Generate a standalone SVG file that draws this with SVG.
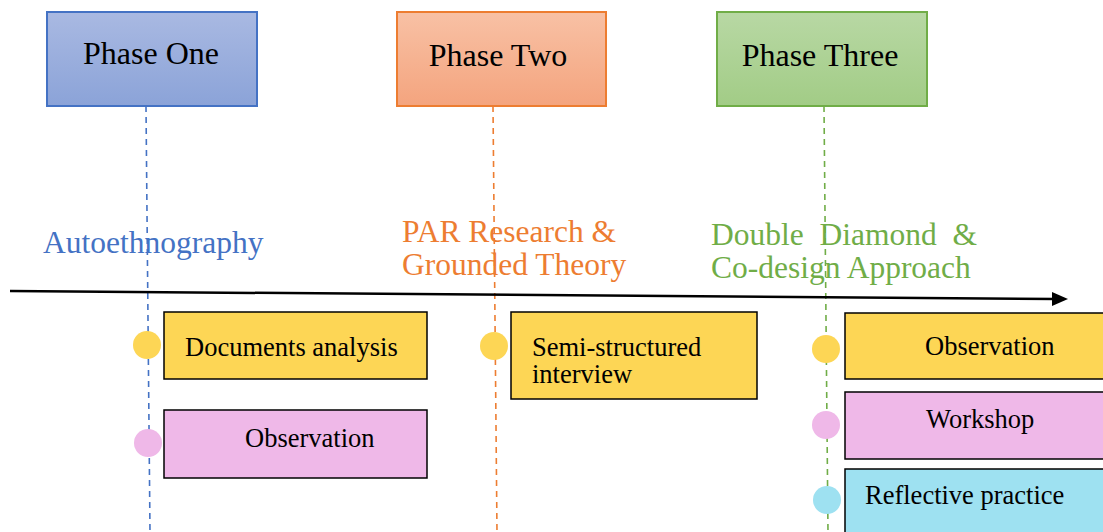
<svg xmlns="http://www.w3.org/2000/svg" width="1103" height="532" viewBox="0 0 1103 532">
<style>
text{font-family:"Liberation Serif","Times New Roman",serif;}
.ph{font-size:32px;fill:#000;text-anchor:middle;}
.lab{font-size:31.5px;}
.bx{stroke:#000;stroke-width:1.5;}
.bt{font-size:26.5px;fill:#000;}
.dash{stroke-width:1.6;stroke-dasharray:6,5;fill:none;}
</style>
<defs>
<linearGradient id="gB" x1="0" y1="0" x2="0" y2="1"><stop offset="0" stop-color="#A9B9E2"/><stop offset="1" stop-color="#8BA3D8"/></linearGradient>
<linearGradient id="gO" x1="0" y1="0" x2="0" y2="1"><stop offset="0" stop-color="#F8C1A5"/><stop offset="1" stop-color="#F4A47E"/></linearGradient>
<linearGradient id="gG" x1="0" y1="0" x2="0" y2="1"><stop offset="0" stop-color="#B8D8A4"/><stop offset="1" stop-color="#A2CC86"/></linearGradient>
</defs>

<g id="label-autoethnography"><text class="lab" x="43" y="253" fill="#4472C4">Autoethnography</text></g>
<g id="label-par"><text class="lab" x="402" y="242" fill="#ED7D31">PAR Research &amp;</text><text class="lab" x="402" y="275" fill="#ED7D31">Grounded Theory</text></g>
<g id="label-dd"><text class="lab" x="711" y="245" fill="#70AD47" xml:space="preserve">Double  Diamond  &amp;</text><text class="lab" x="711" y="278" fill="#70AD47">Co-design Approach</text></g>

<g id="connectors">
<line class="dash" x1="146" y1="106" x2="150" y2="532" stroke="#4472C4"/>
<line class="dash" x1="493" y1="106" x2="497" y2="532" stroke="#ED7D31"/>
<line class="dash" x1="824" y1="106" x2="828" y2="532" stroke="#70AD47"/>
<line x1="10" y1="291" x2="1056" y2="299" stroke="#000" stroke-width="2.5"/>
<path d="M1052,292 L1068,299 L1052,306 z" fill="#000"/>
</g>

<g id="phase-one"><rect x="47" y="12" width="210" height="94" fill="url(#gB)" stroke="#4472C4" stroke-width="2"/><text class="ph" x="151" y="64">Phase One</text></g>
<g id="phase-two"><rect x="397" y="12" width="209" height="94" fill="url(#gO)" stroke="#ED7D31" stroke-width="2"/><text class="ph" x="498" y="66">Phase Two</text></g>
<g id="phase-three"><rect x="717" y="12" width="210" height="94" fill="url(#gG)" stroke="#70AD47" stroke-width="2"/><text class="ph" x="820" y="66">Phase Three</text></g>

<g id="doc-analysis"><rect class="bx" x="164" y="312" width="263" height="67" fill="#FDD655"/><circle cx="147" cy="345" r="14" fill="#FDD655"/><text class="bt" x="185" y="356">Documents analysis</text></g>
<g id="observation-1"><rect class="bx" x="164" y="410" width="263" height="68" fill="#EFB8E8"/><circle cx="148" cy="443" r="14" fill="#EFB8E8"/><text class="bt" x="245" y="447">Observation</text></g>
<g id="semi-structured"><rect class="bx" x="511" y="312" width="246" height="87" fill="#FDD655"/><circle cx="494" cy="346" r="14" fill="#FDD655"/><text class="bt" x="532" y="356">Semi-structured</text><text class="bt" x="532" y="383">interview</text></g>
<g id="observation-3"><rect class="bx" x="845" y="313" width="262" height="66" fill="#FDD655"/><circle cx="826" cy="349" r="14" fill="#FDD655"/><text class="bt" x="925" y="355">Observation</text></g>
<g id="workshop"><rect class="bx" x="845" y="392" width="262" height="67" fill="#EFB8E8"/><circle cx="826" cy="425" r="14" fill="#EFB8E8"/><text class="bt" x="926" y="428">Workshop</text></g>
<g id="reflective"><rect class="bx" x="845" y="469" width="262" height="70" fill="#9EE1F1"/><circle cx="827" cy="500" r="14" fill="#9EE1F1"/><text class="bt" x="865" y="504">Reflective practice</text></g>
</svg>
